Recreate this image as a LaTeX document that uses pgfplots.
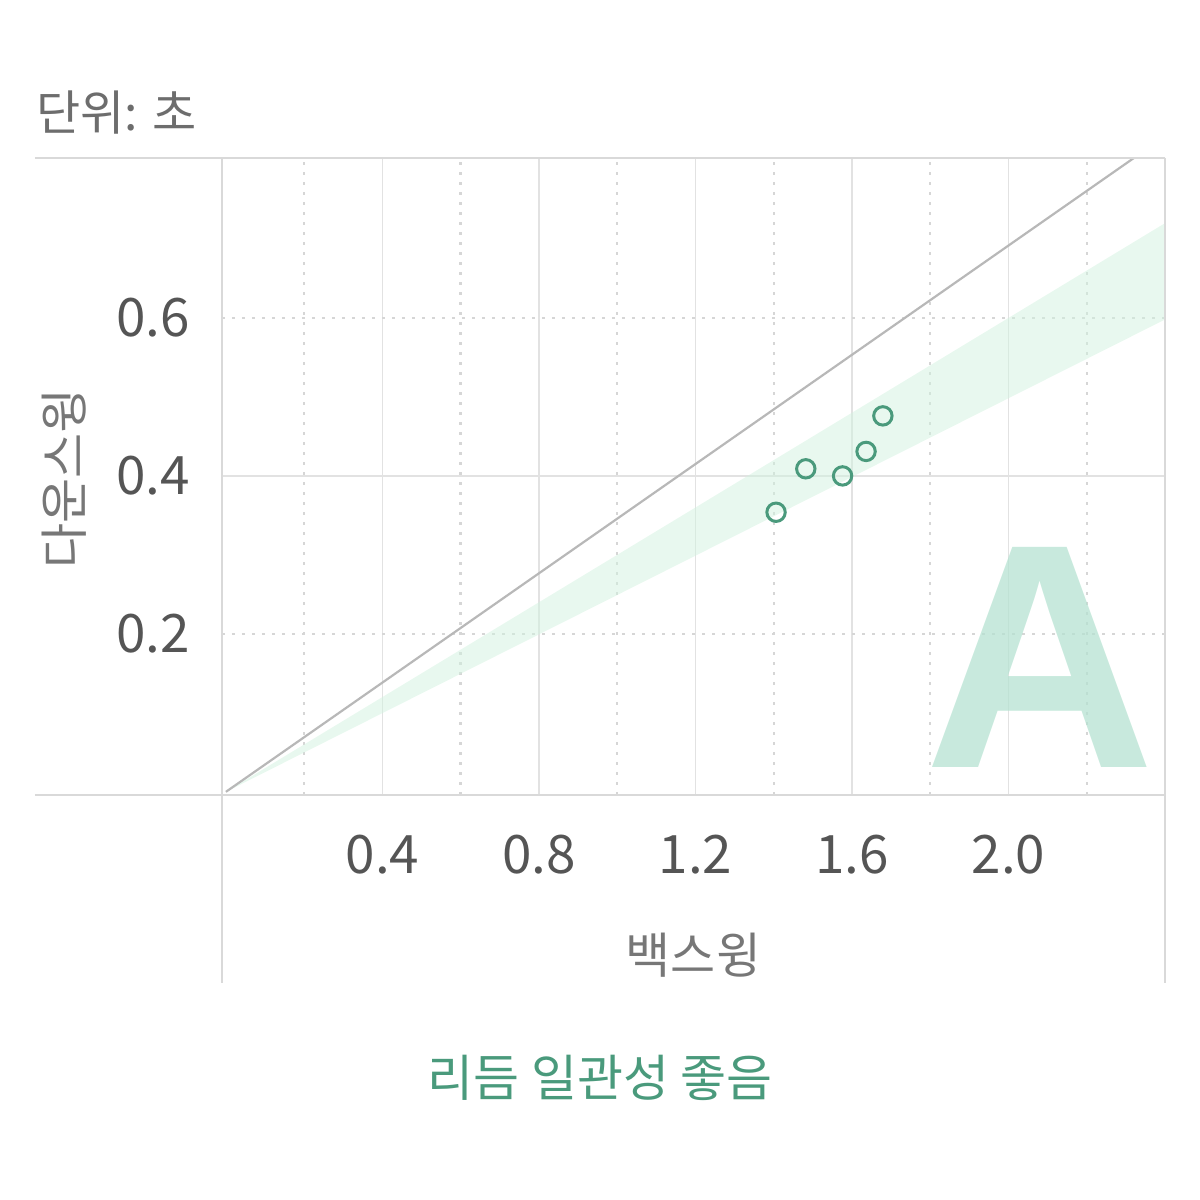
\documentclass[border=0pt]{standalone}
\usepackage{fontspec}
\setmainfont{Noto Sans CJK KR}
\newfontfamily\bigfont{Liberation Sans}
\usepackage{pgfplots}
\pgfplotsset{compat=1.18}

\definecolor{framegray}{HTML}{D9D9D9}
\definecolor{gridgray}{HTML}{E2E2E2}
\definecolor{dotgray}{HTML}{D6D6D6}
\definecolor{diaggray}{HTML}{B8B8B8}
\definecolor{bandgreen}{HTML}{D2F2DF}
\definecolor{ptgreen}{HTML}{4A9A7C}
\definecolor{biga}{HTML}{B5E2D1}
\definecolor{ticklab}{HTML}{555555}
\definecolor{labgray}{HTML}{777777}

\begin{document}
\begin{tikzpicture}
\begin{axis}[
    scale only axis,
    width=471.5pt, height=318.5pt,
    xmin=-0.01, xmax=2.4,
    ymin=-0.004, ymax=0.8025,
    axis line style={draw=none},
    major tick length=0pt, minor tick length=0pt,
    xtick={0.4,0.8,1.2,1.6,2.0},
    xticklabels={0.4,0.8,1.2,1.6,2.0},
    minor xtick={0.2,0.6,1.0,1.4,1.8,2.2},
    ytick={0.4}, yticklabels={0.4},
    extra y ticks={0.2,0.6},
    extra y tick labels={0.2,0.6},
    extra y tick style={major grid style={dotgray, line width=1.2pt, dash pattern=on 1.3pt off 3.7pt}},
    xmajorgrids, xminorgrids, ymajorgrids,
    major grid style={gridgray, line width=0.8pt},
    minor grid style={dotgray, line width=1.2pt, dash pattern=on 1.3pt off 3.7pt},
    ticklabel style={font=\fontsize{26.5}{30}\selectfont, text=ticklab},
    xticklabel style={anchor=north, inner sep=0pt, yshift=-20pt},
    yticklabel style={anchor=east, inner sep=0pt, xshift=-16pt},
]
% faint letter grade
\node[anchor=base, inner sep=0pt, text depth=0pt, text=biga, text opacity=0.75,
      font=\bigfont\bfseries\fontsize{160}{162}\selectfont]
    at (axis description cs:0.8674,0.0424) {A};
% expected band
\addplot[draw=none, fill=bandgreen, fill opacity=0.5]
    coordinates {(0,0) (2.4,0.72) (2.4,0.598) (0,0)};
% reference line
\addplot[diaggray, line width=1.1pt] coordinates {(0,0) (2.4,0.83)};
% swings
\addplot[only marks, mark=o, mark size=4.6pt,
         mark options={draw=ptgreen, line width=1.5pt}]
    coordinates {
    (1.406,0.354)
    (1.482,0.409)
    (1.576,0.400)
    (1.636,0.431)
    (1.679,0.476)
    };
\end{axis}
% frame
\draw[framegray, line width=1.4pt]
    ([xshift=-93.5pt]current axis.north west) -- (current axis.north east);
\draw[framegray, line width=1.4pt]
    ([xshift=-93.5pt]current axis.south west) -- (current axis.south east);
\draw[framegray, line width=1.4pt]
    (current axis.north west) -- ([yshift=-94pt]current axis.south west);
\draw[framegray, line width=1.4pt]
    (current axis.north east) -- ([yshift=-94pt]current axis.south east);
% labels
\node[anchor=center, text=labgray, font=\fontsize{24.5}{28}\selectfont]
    at ([yshift=-80pt]current axis.south) {백스윙};
\node[anchor=center, rotate=90, text=labgray, font=\fontsize{24.5}{28}\selectfont]
    at ([xshift=-79pt,yshift=-1pt]current axis.west) {다운스윙};
\node[anchor=west, inner sep=0pt, text=labgray!92!black, font=\fontsize{24}{28}\selectfont]
    at ([xshift=-93pt,yshift=22.5pt]current axis.north west) {단위: 초};
\node[anchor=center, text=ptgreen, font=\fontsize{25}{29}\selectfont]
    at ([xshift=189pt,yshift=-141.5pt]current axis.south west) {리듬 일관성 좋음};
% page
\pgfresetboundingbox
\path[use as bounding box]
    ([xshift=-111pt,yshift=-202.5pt]current axis.south west)
    rectangle ([xshift=17.5pt,yshift=79pt]current axis.north east);
\end{tikzpicture}
\end{document}
